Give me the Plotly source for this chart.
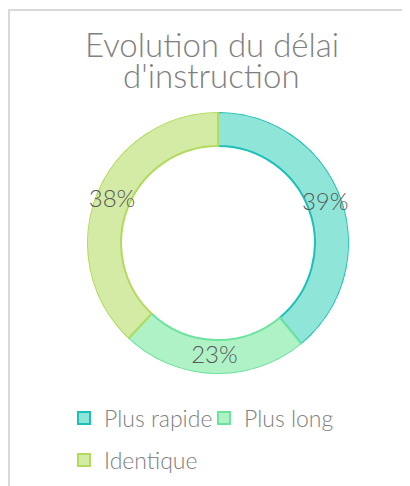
import plotly.graph_objects as go

categories = ["Plus rapide", "Plus long", "Identique"]
values = [39, 23, 38]
fill_colors = ["#90e5d9", "#aff2c6", "#d4eba6"]
line_colors = ["#1dbfb8", "#6ee3a0", "#b2da5c"]
legend_rows = ["legend", "legend", "legend2"]

W, H = 410, 486
OFF = 8  # page body margin
cx, cy, r = 218 - OFF, 243 - OFF, 131
HOLE = 0.74

font_family = "Lato, 'DejaVu Sans', sans-serif"

def px_x(x):
    return x / W

def px_y(y):
    return 1 - y / H

dom = dict(x=[px_x(cx - r), px_x(cx + r)], y=[px_y(cy + r), px_y(cy - r)])

total = sum(values)
mids, spans, acc = [], [], 0
for v in values:
    mids.append((acc + v / 2) / total * 360)
    spans.append(v / total * 360)
    acc += v

fig = go.Figure()
# donut ring as polar bars
fig.add_trace(go.Barpolar(
    r=[1 - HOLE] * len(values),
    base=[HOLE] * len(values),
    theta=mids,
    width=spans,
    marker=dict(color=fill_colors, line=dict(color=line_colors, width=2)),
    hovertext=categories,
    hoverinfo="text",
    showlegend=False,
))
# data labels at slice centroids (mid-ring)
fig.add_trace(go.Scatterpolar(
    r=[(1 + HOLE) / 2] * len(values),
    theta=mids,
    mode="text",
    text=[f"{round(v / total * 100)}%" for v in values],
    textfont=dict(family=font_family, size=24, color="#595959", weight=300),
    textposition="middle center",
    showlegend=False,
    hoverinfo="skip",
))

# legend entries
for cat, fc, lc, lg in zip(categories, fill_colors, line_colors, legend_rows):
    fig.add_trace(go.Scatter(
        x=[None], y=[None], mode="markers", name=cat, legend=lg,
        marker=dict(symbol="square", size=12, color=fc, line=dict(color=lc, width=2)),
    ))

legend_font = dict(family=font_family, size=23, color="#808080", weight=300)

fig.update_layout(
    width=W, height=H,
    margin=dict(l=0, r=0, t=0, b=0),
    paper_bgcolor="white",
    plot_bgcolor="white",
    xaxis=dict(visible=False),
    yaxis=dict(visible=False),
    polar=dict(
        domain=dom,
        bgcolor="rgba(0,0,0,0)",
        bargap=0,
        radialaxis=dict(range=[0, 1], visible=False, showgrid=False, showline=False),
        angularaxis=dict(rotation=90, direction="clockwise", visible=False,
                         showgrid=False, showline=False),
    ),
    legend=dict(
        orientation="h",
        x=px_x(64 - OFF), xanchor="left",
        y=px_y(418 - OFF), yanchor="middle",
        font=legend_font,
        itemwidth=30,
        entrywidth=95, entrywidthmode="pixels",
    ),
    legend2=dict(
        orientation="h",
        x=px_x(64 - OFF), xanchor="left",
        y=px_y(460 - OFF), yanchor="middle",
        font=legend_font,
        itemwidth=30,
    ),
    annotations=[
        dict(text="Evolution du délai", x=px_x(212 - OFF), y=px_y(44 - OFF),
             xref="paper", yref="paper", xanchor="center", yanchor="middle", showarrow=False,
             font=dict(family=font_family, size=33, color="#808080", weight=300)),
        dict(text="d'instruction", x=px_x(211 - OFF), y=px_y(75 - OFF),
             xref="paper", yref="paper", xanchor="center", yanchor="middle", showarrow=False,
             font=dict(family=font_family, size=33, color="#808080", weight=300)),
    ],
    shapes=[
        dict(type="line", xref="paper", yref="paper", x0=0, x1=1, y0=px_y(2), y1=px_y(2),
             line=dict(color="#d9d9d9", width=2)),
        dict(type="line", xref="paper", yref="paper", x0=px_x(1), x1=px_x(1), y0=0, y1=px_y(1),
             line=dict(color="#d9d9d9", width=2)),
    ],
)

fig.write_html("out.html")
